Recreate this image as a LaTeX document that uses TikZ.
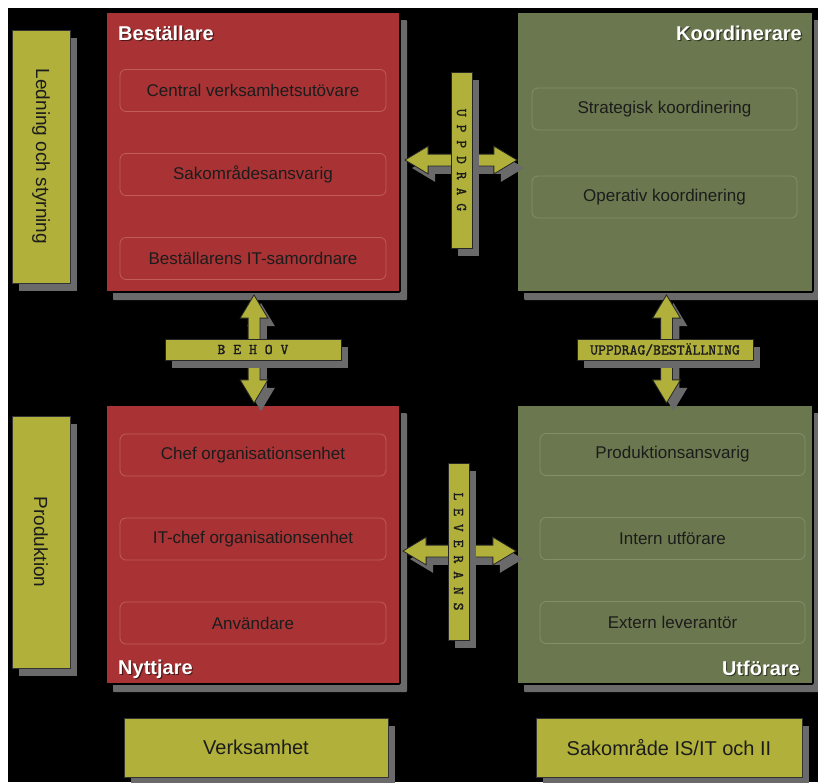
\documentclass[tikz,border=0pt]{standalone}
\usepackage{fontspec}
\setmainfont{Liberation Sans}
\newfontfamily\barfont{lmmono10-regular.otf}[FakeBold=1.3]
\usetikzlibrary{shapes.arrows,shadows,calc}
\definecolor{bred}{HTML}{A83234}
\definecolor{bgreen}{HTML}{6B774E}
\definecolor{byel}{HTML}{B0B03A}
\definecolor{shgray}{HTML}{6A6A6A}
\definecolor{redline}{HTML}{C05C5C}
\definecolor{greenline}{HTML}{82906A}
\definecolor{txt}{HTML}{1C1C1C}
\tikzset{
  shad/.style={drop shadow={shadow xshift=7pt,shadow yshift=-8pt,fill=shgray,opacity=1}},
  outerred/.style={fill=bred,draw=black,line width=1.6pt,shad,inner sep=0pt,rounded corners=1pt},
  outergreen/.style={fill=bgreen,draw=black,line width=1.6pt,shad,inner sep=0pt,rounded corners=1pt},
  yelbox/.style={fill=byel,draw=black!80,line width=0.8pt,shad,inner sep=0pt,text=txt,font=\fontsize{20}{24}\selectfont},
  innerbox/.style={line width=0.8pt,rounded corners=6pt,minimum height=42pt,text=txt,font=\fontsize{17}{20}\selectfont},
  innerred/.style={innerbox,draw=redline,minimum width=266pt},
  innergreen/.style={innerbox,draw=greenline,minimum width=265pt},
  titletext/.style={text=white,font=\bfseries\fontsize{20}{24}\selectfont,inner sep=0pt},
  titleshade/.style={text=black,opacity=0.55,font=\bfseries\fontsize{20}{24}\selectfont,inner sep=0pt},
  bar/.style={fill=byel,draw=black!85,line width=0.8pt,shad,inner sep=0pt,minimum height=21pt,text=txt,font=\barfont\fontsize{15}{18}\selectfont},
  fatarrow/.style={double arrow,fill=byel,draw=black!85,line width=0.8pt,shad,inner xsep=0pt,inner ysep=5.5pt,minimum width=27pt,double arrow head extend=8pt,double arrow tip angle=62},
}
\begin{document}
\begin{tikzpicture}[x=1pt,y=-1pt]
\useasboundingbox (0,0) rectangle (818,782);
\fill[white] (0,0) rectangle (818,782);
\fill[black] (8,8) rectangle (818,782);

% side labels
\node[yelbox,minimum width=58pt,minimum height=253pt] (led) at (41,156.5) {};
\node[rotate=-90,text=txt,font=\fontsize{19}{22}\selectfont] (ledt) at (led.center) {Ledning och styrning};
\node[yelbox,minimum width=58pt,minimum height=252pt] (prod) at (41,542) {};
\node[rotate=-90,text=txt,font=\fontsize{19}{22}\selectfont] (prodt) at (prod.center) {Produktion};

% main boxes
\node[outerred,minimum width=294pt,minimum height=280pt] (best) at (253,152) {};
\node[outergreen,minimum width=296pt,minimum height=280pt] (koord) at (665,152) {};
\node[outerred,minimum width=294pt,minimum height=279pt] (nytt) at (253,544.5) {};
\node[outergreen,minimum width=296pt,minimum height=279pt] (utf) at (665,544.5) {};

% bottom labels
\node[yelbox,minimum width=264pt,minimum height=59pt] (verks) at (256,747.5) {Verksamhet};
\node[yelbox,minimum width=266pt,minimum height=59pt] (sak) at (669,747.5) {Sakområde IS/IT och II};

% titles
\node[titleshade,anchor=west] (bestts) at (119.2,34.2) {Beställare};
\node[titletext,anchor=west] (bestt) at (118,33) {Beställare};
\node[titleshade,anchor=east] (koordts) at (803.2,34.2) {Koordinerare};
\node[titletext,anchor=east] (koordt) at (802,33) {Koordinerare};
\node[titleshade,anchor=west] (nyttts) at (119.2,670.2) {Nyttjare};
\node[titletext,anchor=west] (nyttt) at (118,669) {Nyttjare};
\node[titleshade,anchor=east] (utfts) at (801.2,669.2) {Utförare};
\node[titletext,anchor=east] (utft) at (800,668) {Utförare};

% inner boxes
\node[innerred] (b1) at (253,90.5) {Central verksamhetsutövare};
\node[innerred] (b2) at (253,174.5) {Sakområdesansvarig};
\node[innerred] (b3) at (253,258.5) {Beställarens IT-samordnare};
\node[innergreen] (k1) at (664.5,109) {Strategisk koordinering};
\node[innergreen] (k2) at (664.5,197) {Operativ koordinering};
\node[innerred] (n1) at (253,455) {Chef organisationsenhet};
\node[innerred] (n2) at (253,539) {IT-chef organisationsenhet};
\node[innerred] (n3) at (253,623) {Användare};
\node[innergreen] (u1) at (672.5,454.5) {Produktionsansvarig};
\node[innergreen] (u2) at (672.5,538.5) {Intern utförare};
\node[innergreen] (u3) at (672.5,622.5) {Extern leverantör};

% connectors (block arrows with label bars)
\node[fatarrow,minimum height=112pt] (a1) at (461,160) {};
\node[bar,minimum width=176pt,rotate=-90] (l1) at (461.5,160) {U P P D R A G};

\node[fatarrow,minimum height=113pt] (a2) at (459.5,551) {};
\node[bar,minimum width=177pt,rotate=-90] (l2) at (458.5,551.5) {L E V E R A N S};

\node[fatarrow,minimum height=108pt,rotate=90] (a3) at (254,349) {};
\node[bar,minimum width=176pt] (l3) at (253,349.5) {B E H O V};

\node[fatarrow,minimum height=108pt,rotate=90] (a4) at (666.5,349) {};
\node[bar,minimum width=176pt] (l4) at (665,349.5) {UPPDRAG/BESTÄLLNING};
\end{tikzpicture}
\end{document}
